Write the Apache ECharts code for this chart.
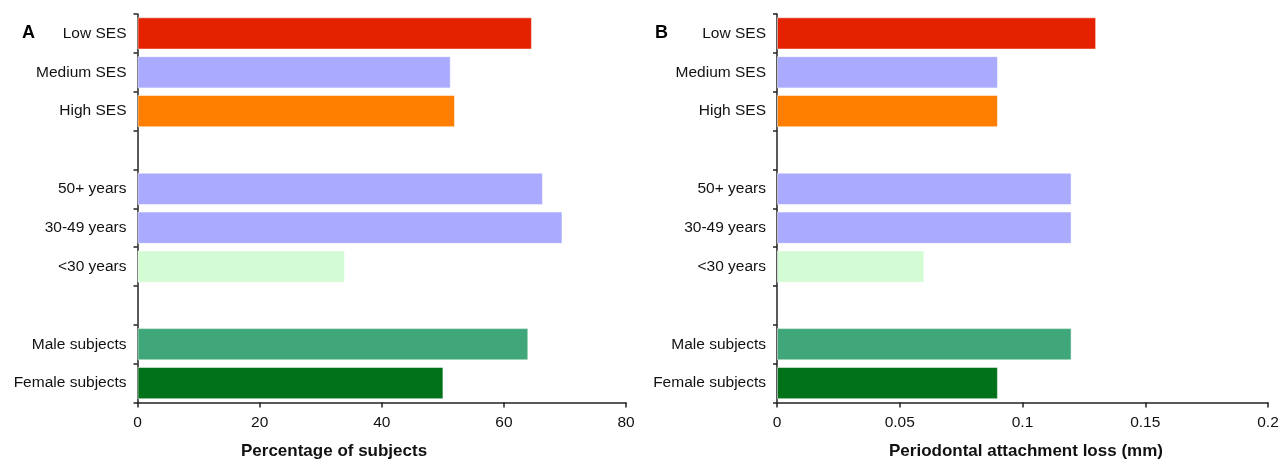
<!DOCTYPE html>
<html><head><meta charset="utf-8">
<script src="https://cdn.jsdelivr.net/npm/echarts@6/dist/echarts.min.js"></script>
<style>html,body{margin:0;padding:0;background:#fff}#c{width:1288px;height:460px}</style>
</head><body><div id="c"></div>
<script>
const categories = ['Low SES','Medium SES','High SES','','50+ years','30-49 years','<30 years','','Male subjects','Female subjects'];
const valuesA = [64.6, 51.3, 52.0, '-', 66.4, 69.6, 34.0, '-', 64.0, 50.1];
const valuesB = [0.13, 0.09, 0.09, '-', 0.12, 0.12, 0.06, '-', 0.12, 0.09];
const ticksA = [0, 20, 40, 60, 80];
const ticksB = [0, 0.05, 0.1, 0.15, 0.2];
const barColors = ['#E52200','#AAAAFE','#FF7E00','#ffffff','#AAAAFE','#AAAAFE','#D4FCD4','#ffffff','#40A77A','#02721A'];

const font = '"Liberation Sans", Arial, sans-serif';
const chart = echarts.init(document.getElementById('c'));
function mkData(vals){ return vals.map((v,i)=>({value:v,itemStyle:{color:barColors[i]}})); }
function yAxis(idx){
  return {type:'category', gridIndex:idx, data:categories, inverse:true,
    axisLine:{lineStyle:{color:'#222',width:1.5}},
    axisTick:{show:true,alignWithLabel:false,length:4,inside:false,lineStyle:{color:'#222',width:1.5}},
    axisLabel:{color:'#111',fontSize:15.5,fontFamily:font,margin:11},
    splitLine:{show:false}};
}
function xAxis(idx, ticks){
  return {type:'value', gridIndex:idx, min:ticks[0], max:ticks[ticks.length-1], interval:ticks[1]-ticks[0],
    axisLine:{show:true,lineStyle:{color:'#222',width:1.5}},
    axisTick:{show:true,length:5,lineStyle:{color:'#222',width:1.5}},
    axisLabel:{color:'#111',fontSize:15.5,fontFamily:font,margin:12},
    splitLine:{show:false}};
}
chart.setOption({
  animation:false,
  grid:[
    {left:137.5, width:488.5, top:14, height:388.5},
    {left:777, width:491, top:14, height:388.5}
  ],
  xAxis:[xAxis(0,ticksA), xAxis(1,ticksB)],
  yAxis:[yAxis(0), yAxis(1)],
  series:[
    {type:'bar', xAxisIndex:0, yAxisIndex:0, data:mkData(valuesA), barCategoryGap:'17%',
     itemStyle:{borderColor:'rgba(255,255,255,0.5)',borderWidth:1}},
    {type:'bar', xAxisIndex:1, yAxisIndex:1, data:mkData(valuesB), barCategoryGap:'17%',
     itemStyle:{borderColor:'rgba(255,255,255,0.5)',borderWidth:1}}
  ],
  graphic:[
    {type:'text', left:22, top:24, style:{text:'A', font:'bold 18px '+font, fill:'#000'}},
    {type:'text', left:655, top:24, style:{text:'B', font:'bold 18px '+font, fill:'#000'}},
    {type:'text', left:241, top:443, style:{text:'Percentage of subjects', font:'bold 17px '+font, fill:'#111'}},
    {type:'text', left:889, top:443, style:{text:'Periodontal attachment loss (mm)', font:'bold 17px '+font, fill:'#111'}}
  ]
});
</script></body></html>
